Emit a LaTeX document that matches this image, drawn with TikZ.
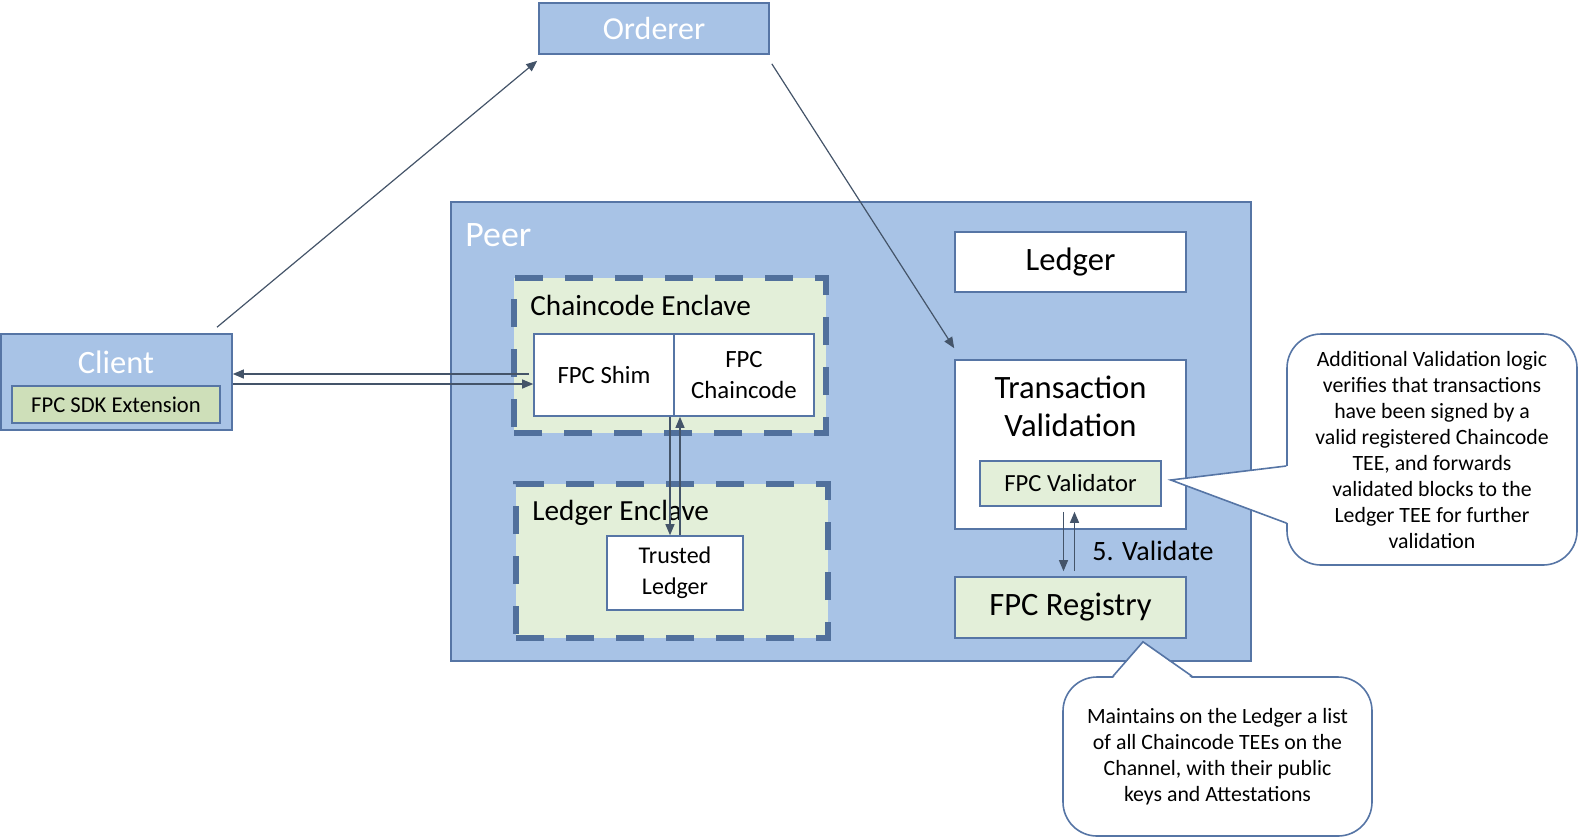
\documentclass[tikz,border=0pt]{standalone}
\usepackage{fontspec}
\setmainfont{Carlito}
\usetikzlibrary{arrows.meta, positioning, calc}

\definecolor{peerblue}{HTML}{A8C3E6}
\definecolor{boxline}{HTML}{5675A5}
\definecolor{dashblue}{HTML}{51709C}
\definecolor{enclgreen}{HTML}{E3EFD9}
\definecolor{sdkgreen}{HTML}{CEDFB9}
\definecolor{arrowgray}{HTML}{445469}

\tikzset{
  bluebox/.style={draw=boxline, fill=peerblue, line width=0.8pt, inner sep=0pt},
  whitebox/.style={draw=boxline, fill=white, line width=0.8pt, inner sep=0pt, align=center},
  greenbox/.style={draw=boxline, fill=enclgreen, line width=0.8pt, inner sep=0pt, align=center},
  enclave/.style={draw=dashblue, fill=enclgreen, line width=2.7pt, dash pattern=on 14pt off 11pt, inner sep=0pt},
  flow/.style={draw=arrowgray, line width=0.6pt, -{Triangle[length=5.5pt,width=4.5pt]}},
  callout/.style={draw=boxline, fill=white, line width=0.8pt, rounded corners=17pt, inner sep=0pt, align=center,
    font=\fontsize{10.9}{13}\selectfont},
  lbl/.style={inner sep=0pt, align=center}
}

\begin{document}
\begin{tikzpicture}[x=0.5pt, y=-0.5pt]
	\useasboundingbox (0,0) rectangle (1579,837);
	% top and left
	\node[bluebox, minimum width=115pt, minimum height=25.5pt, text=white, font=\fontsize{16}{19}\selectfont] (orderer) at (654,28.5) {Orderer};
	\node[bluebox, minimum width=115.5pt, minimum height=48pt] (client) at (116.5,382) {};
	\node[lbl, text=white, font=\fontsize{16.3}{19}\selectfont] (clientlbl) at (116,362) {Client};
	\node[draw=boxline, fill=sdkgreen, line width=0.8pt, minimum width=104pt, minimum height=18.5pt, font=\fontsize{11.3}{13}\selectfont] (sdk) at (116,404.5) {FPC SDK Extension};
	% peer
	\node[bluebox, minimum width=400pt, minimum height=229.5pt] (peer) at (851,431.5) {};
	\node[lbl, anchor=west, text=white, font=\fontsize{17.9}{20}\selectfont] (peerlbl) at (465,235) {Peer};
	\node[enclave, minimum width=156pt, minimum height=77.5pt] (ccenclave) at (670,355.5) {};
	\node[lbl, anchor=west, font=\fontsize{14.6}{17}\selectfont] (cclbl) at (530,305) {Chaincode Enclave};
	\node[whitebox, minimum width=70pt, minimum height=41pt, font=\fontsize{12.4}{15.6}\selectfont] (shim) at (604,375) {FPC Shim};
	\node[whitebox, minimum width=70pt, minimum height=41pt, font=\fontsize{12.4}{15.6}\selectfont] (chaincode) at (744,375) {FPC\\Chaincode};
	\node[enclave, minimum width=156pt, minimum height=77pt] (lgenclave) at (672,561) {};
	\node[lbl, anchor=west, font=\fontsize{14.6}{17}\selectfont] (lglbl) at (532,512.5) {Ledger Enclave};
	\node[whitebox, minimum width=68pt, minimum height=37pt, font=\fontsize{12}{15.5}\selectfont] (trusted) at (675,573) {Trusted\\Ledger};
	\node[whitebox, minimum width=115.5pt, minimum height=30pt, font=\fontsize{16.3}{19}\selectfont] (ledger) at (1070.5,262) {Ledger};
	\node[whitebox, minimum width=115.5pt, minimum height=84.5pt] (txval) at (1070.5,444.5) {};
	\node[lbl, font=\fontsize{16.3}{19}\selectfont] (txlbl) at (1070.5,406) {Transaction\\Validation};
	\node[greenbox, minimum width=90.5pt, minimum height=22.5pt, font=\fontsize{12.3}{15}\selectfont] (validator) at (1070.5,483.5) {FPC Validator};
	\node[greenbox, minimum width=115.5pt, minimum height=30.5pt, font=\fontsize{16.3}{19}\selectfont] (registry) at (1070.5,607.5) {FPC Registry};
	\node[lbl, anchor=west, font=\fontsize{14}{17}\selectfont] (validate) at (1092,551) {5. Validate};
	% callouts
	\node[callout, minimum width=145pt, minimum height=115.5pt] (note1) at (1432,449.5) {Additional Validation logic\\verifies that transactions\\have been signed by a\\valid registered Chaincode\\TEE, and forwards\\validated blocks to the\\Ledger TEE for further\\validation};
	\fill[white] ([shift={(2,16.5)}]note1.west) -- ([shift={(9,-3.5)}]validator.east) -- ([shift={(2,73.5)}]note1.west) -- cycle;
	\draw[boxline, line width=0.8pt] ([shift={(0,16.5)}]note1.west) -- ([shift={(9,-3.5)}]validator.east) -- ([shift={(0,73.5)}]note1.west);
	\node[callout, minimum width=154.5pt, minimum height=79.5pt] (note2) at (1217.5,756.5) {Maintains on the Ledger a list\\of all Chaincode TEEs on the\\Channel, with their public\\keys and Attestations};
	\fill[white] ([shift={(-104.5,2)}]note2.north) -- ([shift={(72.5,3)}]registry.south) -- ([shift={(-25.5,2)}]note2.north) -- cycle;
	\draw[boxline, line width=0.8pt] ([shift={(-104.5,0)}]note2.north) -- ([shift={(72.5,3)}]registry.south) -- ([shift={(-25.5,0)}]note2.north);
	% connectors
	\draw[flow] ([shift={(100.5,-6)}]client.north) -- ([shift={(-1,6)}]orderer.south west);
	\draw[flow] ([shift={(2,9)}]orderer.south east) -- ([shift={(0,-11)}]txval.north west);
	\draw[flow] ([shift={(-4,-1)}]shim.west) -- ([shift={(0,-8)}]client.east);
	\draw[flow] ([shift={(0,2)}]client.east) -- ([shift={(0,9)}]shim.west);
	\draw[flow] ([xshift=-2.5pt]trusted.north |- shim.south) -- ([xshift=-2.5pt]trusted.north);
	\draw[flow] ([xshift=2.5pt]trusted.north) -- ([xshift=2.5pt]trusted.north |- shim.south);
	\draw[flow] ([shift={(-7,5)}]validator.south) -- ([shift={(-7,-5)}]registry.north);
	\draw[flow] ([shift={(4,-5)}]registry.north) -- ([shift={(4,5)}]validator.south);
\end{tikzpicture}
\end{document}
